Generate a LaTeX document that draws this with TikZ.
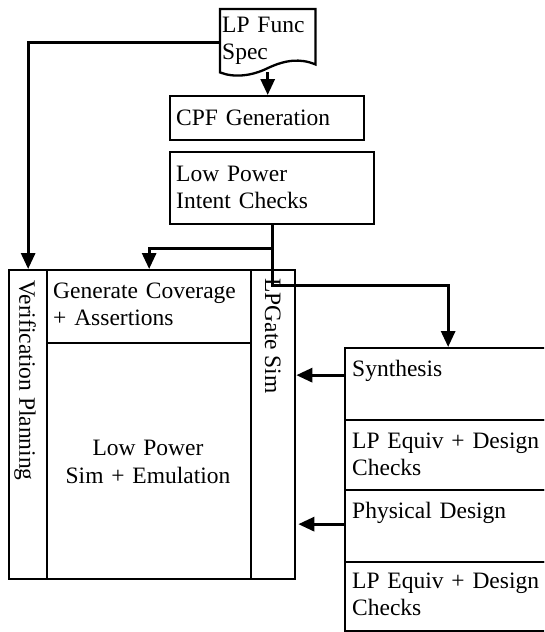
\documentclass[tikz,border=0pt]{standalone}
\usepackage{fontspec}
\setmainfont{Liberation Serif}
\usetikzlibrary{arrows.meta}
\begin{document}
\begin{tikzpicture}[x=1pt,y=-1pt,
  box/.style={draw, line width=2.3pt, inner sep=0pt, anchor=north west},
  lbl/.style={font=\fontsize{23.5}{27}\selectfont, inner sep=0pt, align=left, text width=#1, anchor=base west},
  lbl/.default=200pt,
  clbl/.style={font=\fontsize{23.5}{28}\selectfont, inner sep=0pt, align=center, text width=200pt, anchor=base},
  rlbl/.style={font=\fontsize{23.5}{27}\selectfont, inner sep=0pt, rotate=-90, anchor=base west},
  arr/.style={line width=3pt, -{Triangle[length=16pt,width=14pt]}}]
\useasboundingbox (0,0) rectangle (544,632);
\clip (0,0) rectangle (544,632);

% LP Func Spec (document shape)
\node[inner sep=0pt, minimum width=95pt, minimum height=63pt, anchor=north west] (spec) at (220,9) {};
\draw[line width=2.3pt] (spec.south west) -- (spec.north west) -- (spec.north east) -- ([yshift=8pt]spec.south east)
  .. controls (300,58) and (285,60) .. (268,68) .. controls (252,76) and (234,78) .. (spec.south west) -- cycle;
\node[lbl=90pt] (specl) at (222,32) {LP Func\\Spec};

% CPF Generation
\node[box, minimum width=194pt, minimum height=44pt] (cpf) at (169,95) {};
\node[lbl] (cpfl) at (176,125) {CPF Generation};

% Low Power Intent Checks
\node[box, minimum width=204pt, minimum height=72pt] (intent) at (169,151) {};
\node[lbl] (intentl) at (176,181) {Low Power\\Intent Checks};

% Left big block
\node[box, minimum width=38pt, minimum height=309pt] (vp) at (8,269) {};
\node[box, minimum width=204pt, minimum height=73pt] (gen) at (46,269) {};
\node[box, minimum width=204pt, minimum height=236pt] (sim) at (46,342) {};
\node[box, minimum width=44pt, minimum height=309pt] (lpg) at (250,269) {};
\node[rlbl] (vpl) at (19.5,280) {Verification Planning};
\node[lbl] (genl) at (53,298) {Generate Coverage\\+ Assertions};
\node[clbl] (siml) at (148,455) {Low Power\\Sim + Emulation};
\node[rlbl] (lpgl) at (265,278) {LPGate Sim};

% Right stack
\node[box, minimum width=206pt, minimum height=72pt] (syn) at (344,347) {};
\node[box, minimum width=206pt, minimum height=70pt] (eq1) at (344,419) {};
\node[box, minimum width=206pt, minimum height=72pt] (phys) at (344,489) {};
\node[box, minimum width=206pt, minimum height=69pt] (eq2) at (344,561) {};
\node[lbl] (synl) at (352,376) {Synthesis};
\node[lbl] (eq1l) at (352,448) {LP Equiv + Design\\Checks};
\node[lbl] (physl) at (352,518) {Physical Design};
\node[lbl] (eq2l) at (352,588) {LP Equiv + Design\\Checks};

% Connectors
\draw[arr] (spec.south) -- (spec.south |- cpf.north);
\draw[arr] ([yshift=-2pt]spec.west) -| (vp.north);
\draw[arr] (intent.south) -- ++(0,23) -| (gen.north);
\draw[arr] (intent.south) -- ++(0,60) -| (syn.north);
\draw[arr] ([yshift=9pt]syn.west) -- ([yshift=9pt]syn.west -| lpg.east);
\draw[arr] ([yshift=2pt]phys.west) -- ([yshift=2pt,xshift=2pt]phys.west -| lpg.east);
\end{tikzpicture}
\end{document}
